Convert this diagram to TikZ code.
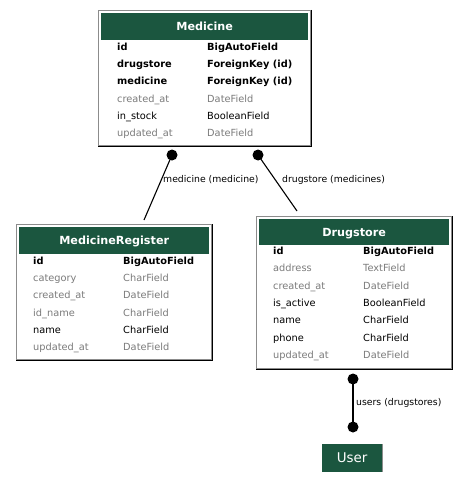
\documentclass[tikz,border=0pt]{standalone}
\usepackage{fontspec}
\setmainfont{DejaVu Sans}
\definecolor{hdr}{HTML}{1B563F}
\definecolor{fgray}{HTML}{7B7B7B}
\definecolor{bgray}{HTML}{8C8C8C}
\tikzset{
  fld/.style={anchor=base west, inner sep=0pt, font=\fontsize{9.8}{10}\selectfont},
  fb/.style={fld, font=\fontsize{9.8}{10}\selectfont\bfseries},
  fg/.style={fld, text=fgray},
  fn/.style={fld},
  tbl/.style={draw=bgray, line width=1pt, fill=white, anchor=north west, inner sep=0pt},
  hdrbox/.style={fill=hdr, anchor=north west, inner sep=0pt, text=white, text height=8pt, text depth=0pt, font=\fontsize{11.2}{12}\selectfont\bfseries},
  dotnode/.style={circle, fill=black, inner sep=0pt, minimum size=11pt},
  conn/.style={line width=1.1pt, black},
  lbl/.style={anchor=west, inner sep=0pt, font=\fontsize{9.3}{10}\selectfont},
}
\begin{document}
\begin{tikzpicture}[x=1pt,y=-1pt]
\useasboundingbox (0,0) rectangle (467,487);
\fill[white] (0,0) rectangle (467,487);

% ---------- Medicine ----------
\node[tbl, minimum width=212pt, minimum height=135pt] (med) at (98,10) {};
\draw[line width=1pt] (med.north east) -- (med.south east) -- (med.south west);
\node[hdrbox, minimum width=207pt, minimum height=27pt] (medH) at (101,13) {Medicine};
\foreach [count=\i] \a/\b/\s in {id/BigAutoField/fb, drugstore/ForeignKey (id)/fb, medicine/ForeignKey (id)/fb, created\_at/DateField/fg, in\_stock/BooleanField/fn, updated\_at/DateField/fg}{
  \node[\s] (med-\i-n) at (117,{50.5+17.2*(\i-1)}) {\a};
  \node[\s] (med-\i-t) at (207,{50.5+17.2*(\i-1)}) {\b};
}

% ---------- MedicineRegister ----------
\node[tbl, minimum width=195pt, minimum height=135pt] (mr) at (16,224) {};
\draw[line width=1pt] (mr.north east) -- (mr.south east) -- (mr.south west);
\node[hdrbox, minimum width=190pt, minimum height=27pt] (mrH) at (19,227) {MedicineRegister};
\foreach [count=\i] \a/\b/\s in {id/BigAutoField/fb, category/CharField/fg, created\_at/DateField/fg, id\_name/CharField/fg, name/CharField/fn, updated\_at/DateField/fg}{
  \node[\s] (mr-\i-n) at (33,{264.5+17.2*(\i-1)}) {\a};
  \node[\s] (mr-\i-t) at (123,{264.5+17.2*(\i-1)}) {\b};
}

% ---------- Drugstore ----------
\node[tbl, minimum width=195pt, minimum height=152pt] (ds) at (256,216) {};
\draw[line width=1pt] (ds.north east) -- (ds.south east) -- (ds.south west);
\node[hdrbox, minimum width=190pt, minimum height=26pt] (dsH) at (259,219) {Drugstore};
\foreach [count=\i] \a/\b/\s in {id/BigAutoField/fb, address/TextField/fg, created\_at/DateField/fg, is\_active/BooleanField/fn, name/CharField/fn, phone/CharField/fn, updated\_at/DateField/fg}{
  \node[\s] (ds-\i-n) at (273,{254.5+17.3*(\i-1)}) {\a};
  \node[\s] (ds-\i-t) at (363,{254.5+17.3*(\i-1)}) {\b};
}

% ---------- User ----------
\node[fill=hdr, anchor=north west, inner sep=0pt, minimum width=60pt, minimum height=28pt, text=white, font=\fontsize{13.4}{14}\selectfont] (user) at (322,444) {User};
\draw[bgray, line width=0.8pt] (user.north east) -- (user.south east);

% ---------- connectors ----------
\node[dotnode] (d1) at (172,155) {};
\node[dotnode] (d2) at (258,155) {};
\coordinate (e1) at (144,220);
\coordinate (e2) at (297,211);
\draw[conn] (d1.center) -- (e1);
\draw[conn] (d2.center) -- (e2);
\node[lbl] (l1) at (163,180) {medicine (medicine)};
\node[lbl] (l2) at (282,180) {drugstore (medicines)};

\node[dotnode] (d3) at (353,379) {};
\node[dotnode] (d4) at (353,427) {};
\draw[conn] (d3.center) -- (d4.center);
\node[lbl] (l3) at (356,403) {users (drugstores)};
\end{tikzpicture}
\end{document}
